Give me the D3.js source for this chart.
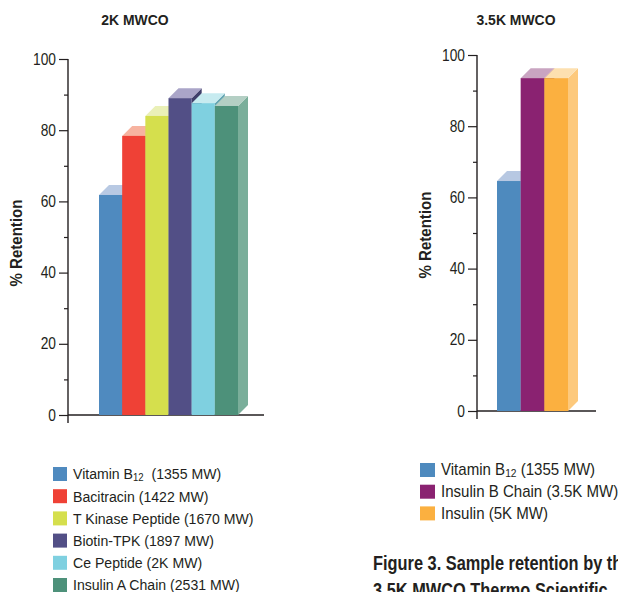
<!DOCTYPE html>
<html><head><meta charset="utf-8">
<script src="https://cdn.jsdelivr.net/npm/d3@7"></script>
<style>
html,body{margin:0;padding:0;background:#fff;}
svg{display:block;}
text{font-family:"Liberation Sans",Arial,sans-serif;fill:#231f20;white-space:pre;}
</style></head>
<body>
<svg id="c" width="618" height="592"></svg>
<script>
// ---- data ----
const leftTitle = "2K MWCO";
const rightTitle = "3.5K MWCO";
const leftCategories = ["Vitamin B12", "Bacitracin", "T Kinase Peptide", "Biotin-TPK", "Ce Peptide", "Insulin A Chain"];
const leftLegend = ["Vitamin B|12|  (1355 MW)", "Bacitracin (1422 MW)", "T Kinase Peptide (1670 MW)", "Biotin-TPK (1897 MW)", "Ce Peptide (2K MW)", "Insulin A Chain (2531 MW)"];
const leftValues = [61.8, 78.4, 84.0, 89.0, 87.6, 86.8];
const rightCategories = ["Vitamin B12", "Insulin B Chain", "Insulin"];
const rightLegend = ["Vitamin B|12| (1355 MW)", "Insulin B Chain (3.5K MW)", "Insulin (5K MW)"];
const rightValues = [64.6, 93.5, 93.5];
const majorTicks = [0, 20, 40, 60, 80, 100];
const minorTicks = [10, 30, 50, 70, 90];
const yLabel = "% Retention";
const captionLines = ["Figure 3. Sample retention by the", "3.5K MWCO Thermo Scientific"];

// ---- styles ----
const leftFront = ["#4f8abf", "#ef4136", "#d5df4d", "#524f86", "#7fd0e0", "#4d917a"];
const leftTop = ["#b8c9e3", "#f7b3a0", "#eaf0b7", "#aaa5c8", "#c7ebf0", "#b4cfc4"];
const leftSide = ["#3d6e9a", "#c0342b", "#aab23d", "#41406b", "#66a6b3", "#7aae9a"];
const rightFront = ["#4e8abe", "#8a2271", "#fbb040"];
const rightTop = ["#b7c8e2", "#c9a4c1", "#fde0b0"];
const rightSide = ["#3d6e9a", "#6e1b5a", "#fdc97c"];

const svg = d3.select("#c");
const depth = 10;

// condense text horizontally around its anchor x (the reference uses a condensed face)
function condense(sel, f) {
  sel.each(function () {
    const t = d3.select(this);
    const x = +t.attr("x") || 0;
    const prev = t.attr("transform") || "";
    t.attr("transform", `${prev} translate(${x},0) scale(${f},1) translate(${-x},0)`);
  });
}

function panel(o) {
  const g = svg.append("g");
  const y = d3.scaleLinear().domain([0, 100]).range([o.y0, o.y100]);
  const x = d3.scaleBand().domain(o.cats).range([o.bx0, o.bx1]).padding(0);

  // title
  g.append("text").attr("x", o.titleX).attr("y", o.titleY).attr("text-anchor", "middle")
    .attr("font-size", 15.5).attr("font-weight", "bold").text(o.title).call(condense, 0.9);

  // axes
  const major = d3.axisLeft(y).tickValues(majorTicks).tickSize(9).tickPadding(3).tickFormat(d3.format("d"));
  const minor = d3.axisLeft(y).tickValues(minorTicks).tickSize(4).tickFormat("");
  const ga = g.append("g").attr("transform", `translate(${o.ax},0)`).call(major);
  ga.selectAll("text").attr("font-size", 16).attr("font-family", null).style("fill", "#231f20").call(condense, 0.86);
  ga.select(".domain").remove();
  ga.selectAll("line").attr("stroke", "#231f20").attr("stroke-width", 1.2);
  const gm = g.append("g").attr("transform", `translate(${o.ax},0)`).call(minor);
  gm.select(".domain").remove();
  gm.selectAll("line").attr("stroke", "#231f20").attr("stroke-width", 1.2);
  g.append("line").attr("x1", o.ax).attr("x2", o.ax).attr("y1", y(100)).attr("y2", y(0) + 8)
    .attr("stroke", "#231f20").attr("stroke-width", 1.4);
  g.append("line").attr("x1", o.ax).attr("x2", o.xEnd).attr("y1", y(0)).attr("y2", y(0))
    .attr("stroke", "#231f20").attr("stroke-width", 1.4);

  // y label
  g.append("text").attr("transform", `translate(${o.labX},${o.labY}) rotate(-90) scale(0.94,1)`)
    .attr("text-anchor", "middle").attr("font-size", 16).attr("font-weight", "bold").text(yLabel);

  // bars (painter's order)
  const bars = g.append("g");
  o.vals.forEach((v, i) => {
    const c = o.cats[i];
    const x0 = x(c), x1 = x(c) + x.bandwidth(), yt = y(v), yb = y(0);
    const bg = bars.append("g");
    bg.append("path").attr("d", `M${x1},${yt}L${x1 + depth},${yt - depth}L${x1 + depth},${yb - depth}L${x1},${yb}Z`)
      .attr("fill", o.side[i]);
    bg.append("path").attr("d", `M${x0},${yt}L${x0 + depth},${yt - depth}L${x1 + depth},${yt - depth}L${x1},${yt}Z`)
      .attr("fill", o.top[i]);
    bg.append("rect").attr("x", x0).attr("y", yt).attr("width", x1 - x0).attr("height", yb - yt)
      .attr("fill", o.front[i]);
  });

  // legend
  const lg = g.append("g");
  o.legend.forEach((lab, i) => {
    const cy = o.legY + i * o.legStep;
    lg.append("rect").attr("x", o.legX).attr("y", cy - 7).attr("width", o.sw).attr("height", 14).attr("fill", o.front[i]);
    const t = lg.append("text").attr("x", o.legX + o.sw + 6).attr("y", cy + 5.5).attr("font-size", o.lfs);
    const parts = lab.split("|");
    parts.forEach((p, k) => {
      const ts = t.append("tspan").text(p);
      if (k === 1) ts.attr("font-size", o.lfs * 0.68).attr("dy", 1.5);
      if (k === 2) ts.attr("dy", -1.5);
    });
    t.call(condense, o.lf);
  });
}

panel({
  title: leftTitle, titleX: 135, titleY: 25,
  cats: leftCategories, vals: leftValues,
  front: leftFront, top: leftTop, side: leftSide, legend: leftLegend,
  y0: 415, y100: 59, ax: 68, xEnd: 264, bx0: 99, bx1: 238,
  labX: 22, labY: 243, legX: 53, legY: 474, legStep: 22.2, sw: 14, lfs: 15.5, lf: 0.91
});
panel({
  title: rightTitle, titleX: 516, titleY: 25,
  cats: rightCategories, vals: rightValues,
  front: rightFront, top: rightTop, side: rightSide, legend: rightLegend,
  y0: 411, y100: 55, ax: 477, xEnd: 596, bx0: 497, bx1: 568,
  labX: 431, labY: 235, legX: 420, legY: 470, legStep: 21.7, sw: 15, lfs: 16.2, lf: 0.93
});

// caption
svg.append("g").selectAll("text").data(captionLines).join("text")
  .attr("x", 373).attr("y", (d, i) => 570 + i * 27)
  .attr("font-size", 19.5).attr("font-weight", "bold").text(d => d).call(condense, 0.84);
</script>
</body></html>
